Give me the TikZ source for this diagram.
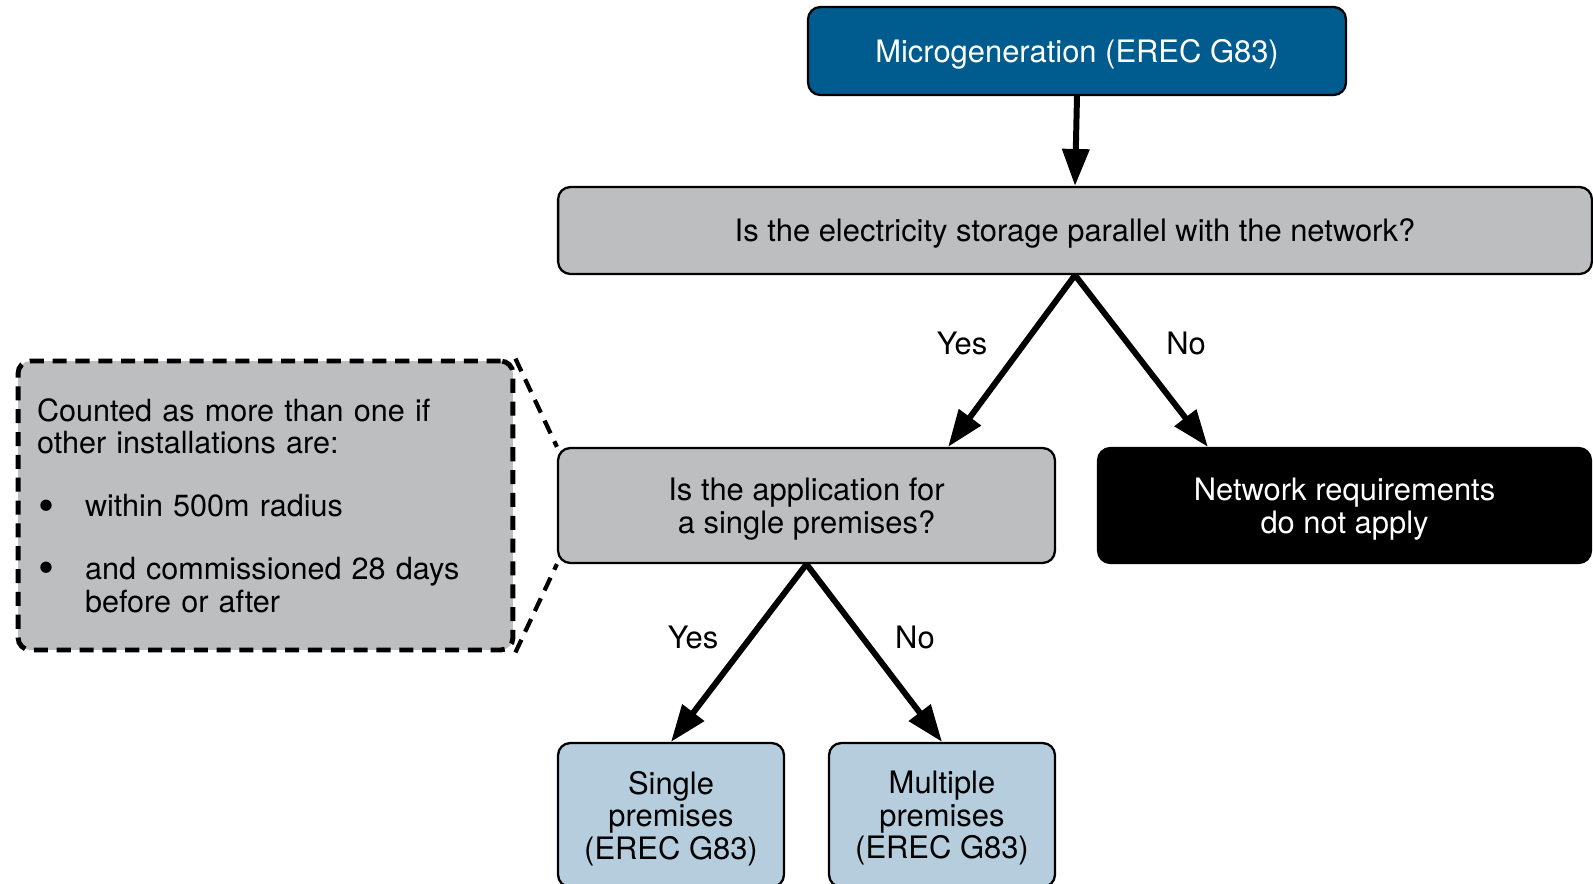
\documentclass[tikz,border=0pt]{standalone}
\usepackage{fontspec}
\setmainfont{TeX Gyre Heros}
\usetikzlibrary{arrows.meta}

\definecolor{g83blue}{RGB}{0,91,143}
\definecolor{askgray}{RGB}{189,190,192}
\definecolor{endblue}{RGB}{181,205,220}

\tikzset{
  box/.style={draw=black, line width=1.3pt, rounded corners=7pt, align=center, inner sep=0pt,
    font=\fontsize{17.6}{18.5}\selectfont},
  flatbox/.style={box, text depth=0pt},
  startbox/.style={flatbox, fill=g83blue, text=white},
  askbox/.style={flatbox, fill=askgray},
  stopbox/.style={flatbox, fill=black, text=white},
  endbox/.style={flatbox, fill=endblue},
  notebox/.style={box, fill=askgray, line width=2.8pt, dash pattern=on 8pt off 5pt,
    align=left, inner xsep=0.38cm, font=\fontsize{17.4}{18.7}\selectfont},
  notelink/.style={line width=2.4pt, dash pattern=on 8pt off 5pt},
  flow/.style={line width=3.4pt, -{Triangle[length=21pt,width=15pt]}},
  answer/.style={font=\fontsize{17.6}{18.5}\selectfont}
}
\newcommand{\notebullet}{\makebox[0.96cm][l]{\hspace{0.02cm}\raisebox{-2.6pt}{\fontsize{26}{18}\selectfont\textbullet}}}

\begin{document}
\begin{tikzpicture}[x=0.02cm,y=-0.02cm]
\useasboundingbox (0,0) rectangle (1593,883);

% boxes
\node[startbox, minimum width=10.76cm, minimum height=1.76cm] (micro) at (1077,51) {Microgeneration (EREC G83)};
\node[askbox, minimum width=20.68cm, minimum height=1.74cm] (parallel) at (1075,230.5) {Is the electricity storage parallel with the network?};
\node[askbox, minimum width=9.94cm, minimum height=2.3cm] (single) at (806.5,505.5) {Is the application for\\a single premises?};
\node[stopbox, minimum width=9.86cm, minimum height=2.3cm] (noreq) at (1344.5,505.5) {Network requirements\\do not apply};
\node[endbox, minimum width=4.52cm, minimum height=2.88cm] (onepremises) at (671,815) {Single\\premises\\(EREC G83)};
\node[endbox, minimum width=4.52cm, minimum height=2.88cm] (multipremises) at (942,815) {Multiple\\premises\\(EREC G83)};

% note
\node[notebox, minimum width=9.9cm, minimum height=5.78cm, text width=9.14cm] (note) at (265.5,505.5)
  {Counted as more than one if\\other installations are:\\[17pt]
   \notebullet within 500m radius\\[17pt]
   \notebullet and commissioned 28 days\\
   \hspace*{0.96cm}before or after};
\draw[notelink] (note.north east) -- (single.north west);
\draw[notelink] (note.south east) -- (single.south west);

% arrows
\draw[flow] (micro.south) -- (parallel.north);
\draw[flow] (parallel.south) -- ([xshift=-2.16cm]single.north east);
\draw[flow] (parallel.south) -- ([xshift=2.22cm]noreq.north west);
\draw[flow] (single.south) -- (onepremises.north);
\draw[flow] (single.south) -- (multipremises.north);

% labels
\node[answer] (yes1) at (962,343) {Yes};
\node[answer] (no1) at (1186,343) {No};
\node[answer] (yes2) at (693,637) {Yes};
\node[answer] (no2) at (915,637) {No};

\end{tikzpicture}
\end{document}
